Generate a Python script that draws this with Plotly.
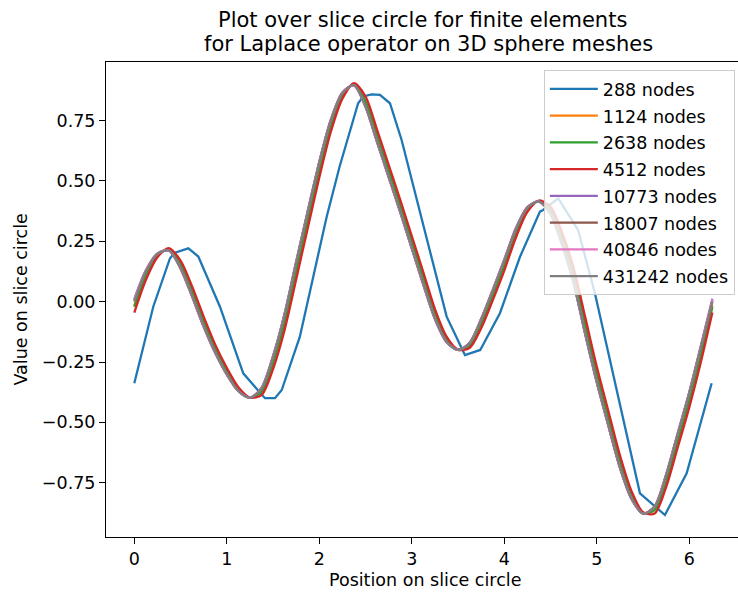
import plotly.graph_objects as go

# ---- data ----
series_names = ["288 nodes", "1124 nodes", "2638 nodes", "4512 nodes",
                "10773 nodes", "18007 nodes", "40846 nodes", "431242 nodes"]
colors = ["#1f77b4", "#ff7f0e", "#2ca02c", "#d62728",
          "#9467bd", "#8c564b", "#e377c2", "#7f7f7f"]

# coarse mesh (288 nodes): polyline vertices
x_288 = [0.0, 0.205, 0.386, 0.44, 0.584, 0.692, 0.926, 1.178, 1.413, 1.521, 1.594,
         1.79, 2.08, 2.22, 2.42, 2.476, 2.566, 2.656, 2.764, 2.89, 3.377, 3.575,
         3.74, 3.953, 4.17, 4.386, 4.42, 4.584, 4.8, 4.98, 5.467, 5.737, 5.972, 6.242]
y_288 = [-0.338, -0.021, 0.18, 0.203, 0.221, 0.187, -0.021, -0.297, -0.40, -0.40, -0.366,
         -0.145, 0.352, 0.56, 0.822, 0.85, 0.859, 0.857, 0.822, 0.67, -0.062, -0.221,
         -0.2, -0.048, 0.186, 0.373, 0.38, 0.428, 0.295, 0.035, -0.794, -0.884, -0.711, -0.338]

# finer meshes: values read at common positions
x_fine = [0.0, 0.125, 0.25, 0.375, 0.5, 0.625, 0.75, 0.875, 1.0, 1.125, 1.25, 1.375,
          1.5, 1.625, 1.75, 1.875, 2.0, 2.125, 2.25, 2.375, 2.5, 2.625, 2.75, 2.875,
          3.0, 3.125, 3.25, 3.375, 3.5, 3.625, 3.75, 3.875, 4.0, 4.125, 4.25, 4.375,
          4.5, 4.625, 4.75, 4.875, 5.0, 5.125, 5.25, 5.375, 5.5, 5.625, 5.75, 5.875,
          6.0, 6.125, 6.25]

y_1124 = [-0.015, 0.113, 0.193, 0.215, 0.150, 0.038, -0.087, -0.199, -0.291, -0.364, -0.398, -0.369,
          -0.247, -0.077, 0.136, 0.347, 0.554, 0.734, 0.857, 0.900, 0.825, 0.682, 0.537, 0.392,
          0.242, 0.092, -0.055, -0.158, -0.200, -0.179, -0.087, 0.031, 0.156, 0.288, 0.384, 0.416,
          0.375, 0.256, 0.101, -0.107, -0.309, -0.490, -0.668, -0.804, -0.876, -0.860, -0.737, -0.569,
          -0.400, -0.211, -0.015]
y_2638 = [-0.022, 0.108, 0.191, 0.217, 0.155, 0.044, -0.081, -0.194, -0.287, -0.362, -0.398, -0.373,
          -0.254, -0.086, 0.126, 0.337, 0.545, 0.727, 0.853, 0.901, 0.830, 0.688, 0.543, 0.399,
          0.249, 0.099, -0.049, -0.155, -0.200, -0.182, -0.093, 0.026, 0.150, 0.283, 0.381, 0.417,
          0.379, 0.263, 0.110, -0.097, -0.300, -0.482, -0.661, -0.800, -0.875, -0.864, -0.744, -0.577,
          -0.409, -0.221, -0.022]
y_4512 = [-0.045, 0.090, 0.184, 0.222, 0.170, 0.063, -0.062, -0.178, -0.274, -0.354, -0.397, -0.387,
          -0.279, -0.117, 0.092, 0.304, 0.514, 0.704, 0.841, 0.905, 0.850, 0.712, 0.567, 0.422,
          0.272, 0.122, -0.030, -0.144, -0.199, -0.192, -0.110, 0.006, 0.129, 0.265, 0.372, 0.419,
          0.393, 0.286, 0.139, -0.064, -0.269, -0.453, -0.636, -0.784, -0.872, -0.878, -0.768, -0.604,
          -0.438, -0.251, -0.045]
y_10773 = [0.012, 0.130, 0.200, 0.211, 0.137, 0.020, -0.104, -0.213, -0.302, -0.371, -0.398, -0.357,
           -0.225, -0.049, 0.166, 0.376, 0.580, 0.754, 0.867, 0.896, 0.806, 0.660, 0.515, 0.370,
           0.220, 0.070, -0.072, -0.167, -0.200, -0.170, -0.071, 0.049, 0.174, 0.304, 0.392, 0.415,
           0.363, 0.236, 0.075, -0.135, -0.335, -0.514, -0.688, -0.817, -0.878, -0.848, -0.716, -0.545,
           -0.375, -0.184, 0.012]
y_18007 = [0.004, 0.127, 0.199, 0.212, 0.139, 0.023, -0.102, -0.211, -0.301, -0.370, -0.398, -0.359,
           -0.228, -0.053, 0.162, 0.372, 0.577, 0.752, 0.866, 0.897, 0.808, 0.663, 0.518, 0.373,
           0.223, 0.073, -0.070, -0.166, -0.200, -0.171, -0.073, 0.047, 0.172, 0.302, 0.391, 0.415,
           0.364, 0.238, 0.078, -0.132, -0.332, -0.512, -0.686, -0.816, -0.878, -0.849, -0.718, -0.548,
           -0.378, -0.188, 0.004]
y_40846 = [0.008, 0.128, 0.199, 0.212, 0.138, 0.022, -0.103, -0.212, -0.301, -0.370, -0.398, -0.358,
           -0.227, -0.051, 0.164, 0.374, 0.578, 0.753, 0.866, 0.897, 0.807, 0.662, 0.517, 0.372,
           0.222, 0.072, -0.071, -0.166, -0.200, -0.171, -0.072, 0.048, 0.173, 0.303, 0.391, 0.415,
           0.364, 0.237, 0.077, -0.133, -0.333, -0.513, -0.687, -0.816, -0.878, -0.849, -0.717, -0.547,
           -0.377, -0.186, 0.008]
y_431242 = [0.000, 0.125, 0.198, 0.212, 0.140, 0.025, -0.100, -0.210, -0.300, -0.370, -0.398, -0.360,
            -0.230, -0.055, 0.160, 0.370, 0.575, 0.750, 0.865, 0.897, 0.810, 0.665, 0.520, 0.375,
            0.225, 0.075, -0.068, -0.165, -0.200, -0.172, -0.075, 0.045, 0.170, 0.300, 0.390, 0.415,
            0.365, 0.240, 0.080, -0.130, -0.330, -0.510, -0.685, -0.815, -0.878, -0.850, -0.720, -0.550,
            -0.380, -0.190, 0.000]

y_tick_vals = [-0.75, -0.5, -0.25, 0.0, 0.25, 0.5, 0.75]
y_tick_text = ["\u22120.75", "\u22120.50", "\u22120.25", "0.00", "0.25", "0.50", "0.75"]
x_tick_vals = [0, 1, 2, 3, 4, 5, 6]

title_line1 = "Plot over slice circle for finite elements"
title_line2 = "for Laplace operator on 3D sphere meshes"
x_label = "Position on slice circle"
y_label = "Value on slice circle"

FONT = "DejaVu Sans"
FS = 17.5

fig = go.Figure()
all_x = [x_288] + [x_fine] * 7
all_y = [y_288, y_1124, y_2638, y_4512, y_10773, y_18007, y_40846, y_431242]
for i, (name, xs, ys) in enumerate(zip(series_names, all_x, all_y)):
    fig.add_trace(go.Scatter(
        x=xs, y=ys, mode="lines", name=name,
        line=dict(color=colors[i], width=2.3, shape="linear" if i == 0 else "spline", smoothing=0.8),
        legendgroup="g%d" % i,
    ))

fig.update_layout(
    width=738, height=594,
    margin=dict(l=106, r=0, t=62, b=57),
    paper_bgcolor="white", plot_bgcolor="white",
    font=dict(family=FONT, size=FS, color="black"),
    showlegend=True,
    legend=dict(x=0.995, xanchor="right", y=0.983, yanchor="top",
                bgcolor="rgba(255,255,255,0.8)", bordercolor="#cccccc", borderwidth=1,
                font=dict(family=FONT, size=FS, color="black"),
                tracegroupgap=1, itemwidth=48),
    xaxis=dict(range=[-0.306, 6.527], tickvals=x_tick_vals, ticks="outside", ticklen=6,
               tickwidth=1, tickcolor="black", showline=True, linecolor="black", linewidth=1,
               mirror=True, showgrid=False, zeroline=False,
               tickfont=dict(family=FONT, size=FS, color="black")),
    yaxis=dict(range=[-0.975, 0.993], tickvals=y_tick_vals, ticktext=y_tick_text,
               ticks="outside", ticklen=6, tickwidth=1, tickcolor="black",
               showline=True, linecolor="black", linewidth=1, mirror=False,
               showgrid=False, zeroline=False,
               tickfont=dict(family=FONT, size=FS, color="black")),
    annotations=[
        dict(text=title_line1, xref="paper", yref="paper", x=0.5, y=1.0884,
             xanchor="center", yanchor="middle", showarrow=False,
             font=dict(family=FONT, size=21, color="black")),
        dict(text=title_line2, xref="paper", yref="paper", x=0.511, y=1.0389,
             xanchor="center", yanchor="middle", showarrow=False,
             font=dict(family=FONT, size=21, color="black")),
        dict(text=x_label, xref="paper", yref="paper", x=0.505, y=-0.0905,
             xanchor="center", yanchor="middle", showarrow=False,
             font=dict(family=FONT, size=FS, color="black")),
        dict(text=y_label, xref="paper", yref="paper", x=-0.136, y=0.5,
             xanchor="center", yanchor="middle", showarrow=False, textangle=-90,
             font=dict(family=FONT, size=FS, color="black")),
    ],
)

fig.write_html("out.html")
